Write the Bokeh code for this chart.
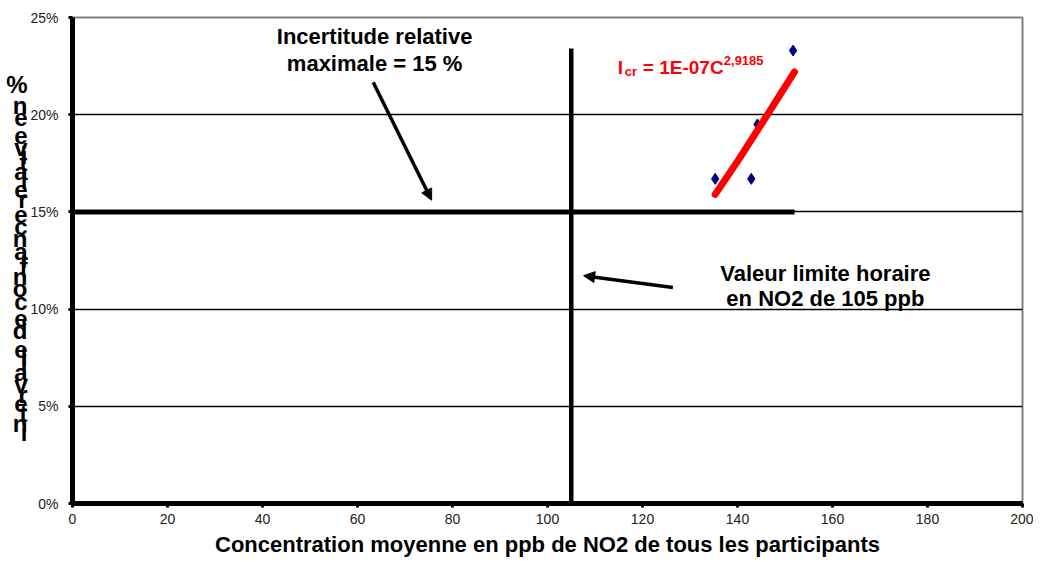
from bokeh.plotting import figure
from bokeh.models import Label, Arrow, NormalHead, Range1d, FixedTicker, LinearAxis
from bokeh.embed import file_html
from bokeh.resources import INLINE

# ---- data ----
conc = [135.3, 142.9, 144.2, 151.7]          # ppb
incert = [16.7, 16.7, 19.5, 23.3]            # %
fit_x = [135.3, 140.0, 145.0, 152.0]
fit_y = [15.9, 17.6, 19.5, 22.2]
limit_x = [0, 152]
limit_y = [15, 15]
vlim_x = [105, 105]
vlim_y = [0, 23.4]
x_ticks = [0, 20, 40, 60, 80, 100, 120, 140, 160, 180, 200]
y_ticks = [0, 5, 10, 15, 20, 25]
y_tick_labels = ["0%", "5%", "10%", "15%", "20%", "25%"]
y_title = "intervalle de confiance relative en %"

FONT = "Liberation Sans"

# ---- layout constants ----
W, H = 1033, 560
B_LEFT, B_RIGHT, B_TOP, B_BOTTOM = 72, 11, 17, 57
FRAME_H = H - B_TOP - B_BOTTOM

p = figure(width=W, height=H, x_range=Range1d(0, 200), y_range=Range1d(0, 25),
           output_backend="svg", toolbar_location=None,
           min_border_left=B_LEFT, min_border_right=B_RIGHT,
           min_border_top=B_TOP, min_border_bottom=B_BOTTOM)

p.outline_line_color = "#808080"
p.outline_line_width = 2

p.xgrid.visible = False
p.ygrid.ticker = FixedTicker(ticks=[5, 10, 15, 20])
p.ygrid.grid_line_color = "black"
p.ygrid.grid_line_width = 1.6

xa = p.xaxis[0]
ya = p.yaxis[0]
for ax in (xa, ya):
    ax.axis_line_width = 5
    ax.axis_line_color = "black"
    ax.major_tick_line_width = 3
    ax.major_tick_out = 4
    ax.major_tick_in = 0
    ax.minor_tick_line_color = None
    ax.major_label_text_font = FONT
    ax.major_label_text_font_size = "14px"
    ax.major_label_text_color = "#222222"

xa.ticker = FixedTicker(ticks=x_ticks)
xa.major_label_standoff = 6
xa.axis_label = "Concentration moyenne en ppb de NO2 de tous les participants"
xa.axis_label_text_font = FONT
xa.axis_label_text_font_size = "22px"
xa.axis_label_text_font_style = "bold"
xa.axis_label_text_color = "black"
xa.axis_label_standoff = 5

ya.ticker = FixedTicker(ticks=y_ticks)
ya.major_label_overrides = {t: l for t, l in zip(y_ticks, y_tick_labels)}
ya.major_label_standoff = 10

# stacked (upright glyphs, bottom-to-top) y title, drawn as tick labels of an extra axis
adv = {"i": .278, "n": .611, "t": .333, "e": .556, "r": .389, "v": .556, "a": .556,
       "l": .278, " ": .278, "d": .611, "c": .556, "o": .611, "f": .333, "%": .889}
advance_px = 21
units_per_px = 25.0 / FRAME_H
pos = 3.5
stack_ticks, stack_labels = [], []
for ch in y_title:
    w = adv[ch] * advance_px * units_per_px
    if ch != " ":
        stack_ticks.append(round(pos + w / 2, 4))
        stack_labels.append(ch)
    pos += w
ytitle_axis = LinearAxis(ticker=FixedTicker(ticks=stack_ticks),
                         major_label_overrides=dict(zip(stack_ticks, stack_labels)),
                         axis_line_color=None, major_tick_line_color=None,
                         minor_tick_line_color=None, major_tick_out=0, major_tick_in=0,
                         major_label_standoff=0, major_label_text_font=FONT,
                         major_label_text_font_size="24px",
                         major_label_text_font_style="bold", major_label_text_color="black")
p.add_layout(ytitle_axis, "left")

# reference lines
p.line(limit_x, limit_y, line_color="black", line_width=5)
p.line(vlim_x, vlim_y, line_color="black", line_width=4.5)

# data points and fit
p.scatter(conc, incert, marker="diamond", size=11, fill_color="#000080", line_color="#000080")
p.line(fit_x, fit_y, line_color="#FF0000", line_width=7, line_cap="round")

# annotations
p.add_layout(Label(x=63.6, y=24.65, text="Incertitude relative\nmaximale = 15 %",
                   text_align="center", text_baseline="top", text_font=FONT,
                   text_color="black",
                   text_font_size="22px", text_font_style="bold", text_line_height=1.05))
p.add_layout(Label(x=158.5, y=12.5, text="Valeur limite horaire\nen NO2 de 105 ppb",
                   text_align="center", text_baseline="top", text_font=FONT,
                   text_color="black",
                   text_font_size="22px", text_font_style="bold", text_line_height=1.0))

p.add_layout(Arrow(x_start=63.3, y_start=21.67, x_end=75.6, y_end=15.6, line_width=3.5,
                   line_color="black",
                   end=NormalHead(size=11, fill_color="black", line_color="black")))
p.add_layout(Arrow(x_start=126.4, y_start=11.11, x_end=107.6, y_end=11.72, line_width=3.5,
                   line_color="black",
                   end=NormalHead(size=11, fill_color="black", line_color="black")))

red = "#FF0000"
eq_x, eq_base = 114.8, 22.41
p.add_layout(Label(x=eq_x, y=eq_base, text="I", text_font=FONT, text_font_size="19px",
                   text_font_style="bold", text_color=red, text_baseline="alphabetic"))
p.add_layout(Label(x=eq_x, y=eq_base, x_offset=7, y_offset=-4, text="cr", text_font=FONT,
                   text_font_size="13px", text_font_style="bold", text_color=red,
                   text_baseline="alphabetic"))
p.add_layout(Label(x=eq_x, y=eq_base, x_offset=25, text="= 1E-07C", text_font=FONT,
                   text_font_size="19px", text_font_style="bold", text_color=red,
                   text_baseline="alphabetic"))
p.add_layout(Label(x=eq_x, y=eq_base, x_offset=106, y_offset=7, text="2,9185", text_font=FONT,
                   text_font_size="13px", text_font_style="bold", text_color=red,
                   text_baseline="alphabetic"))

open("out.html", "w").write(file_html(p, INLINE))
